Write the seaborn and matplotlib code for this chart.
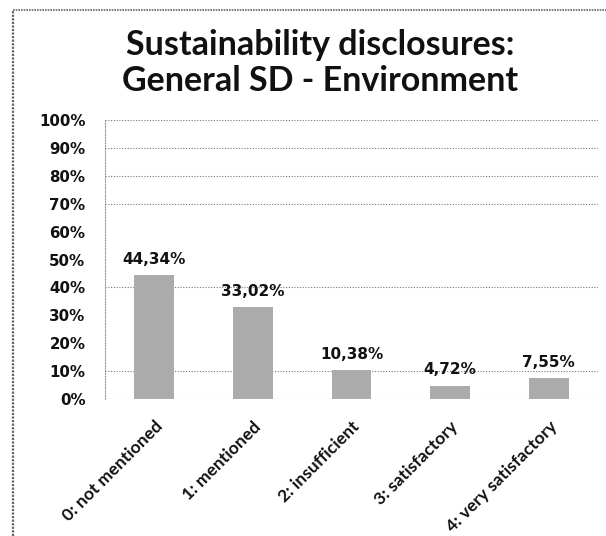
import matplotlib
matplotlib.use("Agg")
import matplotlib.pyplot as plt
from matplotlib.lines import Line2D
import seaborn as sns
import pandas as pd

categories = ["0: not mentioned", "1: mentioned", "2: insufficient",
              "3: satisfactory", "4: very satisfactory"]
shares = [44.34, 33.02, 10.38, 4.72, 7.55]
y_ticks = [0, 10, 20, 30, 40, 50, 60, 70, 80, 90, 100]
y_tick_labels = [f"{t}%" for t in y_ticks]
grid_levels = [0, 10, 40, 70, 80, 90, 100]
title_text = "Sustainability disclosures:\nGeneral SD - Environment"

df = pd.DataFrame({"category": categories, "share": shares})

sns.set_theme(style="white")
fig = plt.figure(figsize=(6.06, 5.36), dpi=100)
ax = fig.add_axes([0.173, 0.2556, 0.814, 0.5205])

sns.barplot(data=df, x="category", y="share", color="#ababab",
            width=0.40, saturation=1, ax=ax, edgecolor="none")

ax.set_ylim(0, 100)
ax.set_xlim(-0.5, len(categories) - 0.5)
ax.set_yticks(y_ticks)
ax.set_yticklabels(y_tick_labels, fontsize=10.8, fontweight="bold",
                   family="DejaVu Sans", color="#111111")
ax.set_xticks(range(len(categories)))
ax.set_xticklabels(categories, rotation=45, ha="right", rotation_mode="anchor",
                   fontsize=12.6, fontweight="bold", family="Lato",
                   color="#111111")
ax.tick_params(axis="y", length=0, pad=14)
ax.tick_params(axis="x", length=0, pad=14)
ax.set_xlabel("")
ax.set_ylabel("")

for t in grid_levels:
    ax.axhline(t, color="#777777", linewidth=0.8, linestyle=(0, (1, 1.5)),
               zorder=0)
for s in ["top", "right", "bottom"]:
    ax.spines[s].set_visible(False)
ax.spines["left"].set_color("#999999")
ax.spines["left"].set_linestyle((0, (1, 1.5)))
ax.spines["left"].set_linewidth(0.8)

for i, v in enumerate(shares):
    ax.annotate(f"{v:.2f}%".replace(".", ","), (i, v),
                xytext=(0, 6), textcoords="offset points",
                ha="center", va="bottom", fontsize=11, fontweight="bold",
                family="DejaVu Sans", color="#111111")

fig.text(0.528, 0.882, title_text, ha="center", va="center",
         fontsize=24.5, fontweight="bold", family="Lato",
         color="#111111", linespacing=1.15)

# frame edges on the left and top of the figure
fig.add_artist(Line2D([0.021, 0.021], [0.0, 0.982], color="#666666",
                      linewidth=1.6, linestyle=(0, (1, 0.6))))
fig.add_artist(Line2D([0.021, 1.0], [0.982, 0.982], color="#666666",
                      linewidth=1.2, linestyle=(0, (1, 0.6))))

fig.savefig("out.png", dpi=100, facecolor="white")
